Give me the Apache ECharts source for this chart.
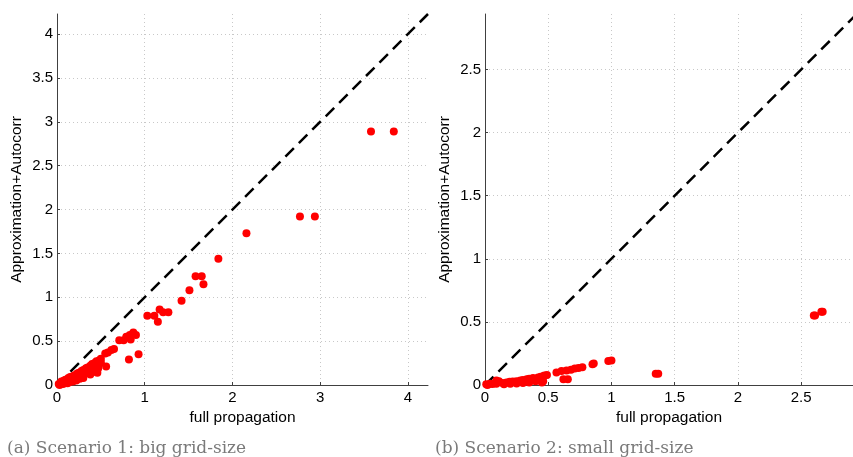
<!DOCTYPE html>
<html>
<head>
<meta charset="utf-8">
<script src="https://cdn.jsdelivr.net/npm/echarts@6/dist/echarts.min.js"></script>
<style>
  html, body { margin: 0; padding: 0; background: #fff; }
  #chart { width: 853px; height: 457px; }
</style>
</head>
<body>
<div id="chart"></div>
<script>
// Scenario 1 (big grid-size): [full propagation, Approximation+Autocorr]
const scenario1Points = [
  [3.58, 2.89], [3.84, 2.89], [2.77, 1.92], [2.94, 1.92], [2.16, 1.73],
  [1.84, 1.44], [1.58, 1.24], [1.65, 1.24], [1.67, 1.15], [1.51, 1.08],
  [1.42, 0.96], [1.17, 0.86], [1.27, 0.83], [1.21, 0.83], [1.03, 0.79],
  [1.11, 0.79], [1.15, 0.72], [0.93, 0.35], [0.82, 0.29], [0.87, 0.60],
  [0.90, 0.57], [0.83, 0.57], [0.79, 0.55], [0.84, 0.52], [0.71, 0.51],
  [0.76, 0.51], [0.65, 0.41], [0.62, 0.40], [0.58, 0.37], [0.55, 0.36],
  [0.56, 0.21], [0.48, 0.28], [0.46, 0.14],
  [0.02, 0.01], [0.04, 0.02], [0.05, 0.04], [0.06, 0.02], [0.08, 0.03],
  [0.08, 0.05], [0.10, 0.04], [0.10, 0.06], [0.12, 0.05], [0.13, 0.08],
  [0.15, 0.06], [0.15, 0.09], [0.17, 0.07], [0.18, 0.10], [0.20, 0.08],
  [0.20, 0.11], [0.22, 0.09], [0.23, 0.13], [0.25, 0.10], [0.25, 0.14],
  [0.27, 0.12], [0.28, 0.16], [0.30, 0.12], [0.30, 0.17], [0.32, 0.14],
  [0.33, 0.19], [0.35, 0.15], [0.35, 0.20], [0.37, 0.17], [0.38, 0.22],
  [0.40, 0.18], [0.40, 0.24], [0.42, 0.20], [0.43, 0.25], [0.45, 0.22],
  [0.45, 0.27], [0.47, 0.19], [0.48, 0.24], [0.50, 0.26], [0.50, 0.30],
  [0.44, 0.15], [0.38, 0.12], [0.30, 0.08], [0.22, 0.05], [0.14, 0.03],
  [0.07, 0.01], [0.03, 0.00], [0.12, 0.02], [0.18, 0.04], [0.26, 0.07]
];

// Scenario 2 (small grid-size): [full propagation, Approximation+Autocorr]
const scenario2Points = [
  [2.60, 0.55], [2.61, 0.55], [2.66, 0.58], [2.67, 0.58],
  [1.35, 0.09], [1.37, 0.09],
  [0.975, 0.19], [1.00, 0.195], [0.85, 0.165], [0.86, 0.17],
  [0.77, 0.14], [0.74, 0.135], [0.71, 0.13], [0.68, 0.12], [0.645, 0.115],
  [0.605, 0.11], [0.565, 0.10], [0.62, 0.045], [0.655, 0.045],
  [0.49, 0.08], [0.47, 0.075], [0.46, 0.07], [0.44, 0.065], [0.42, 0.06],
  [0.46, 0.03], [0.45, 0.02], [0.38, 0.055], [0.35, 0.05], [0.33, 0.045],
  [0.30, 0.04], [0.28, 0.035], [0.25, 0.03], [0.22, 0.028], [0.195, 0.025],
  [0.17, 0.02], [0.14, 0.015], [0.09, 0.035], [0.11, 0.03], [0.09, 0.01],
  [0.06, 0.008], [0.04, 0.01], [0.01, 0.005], [0.02, 0.0],
  [0.40, 0.03], [0.35, 0.02], [0.30, 0.015], [0.25, 0.012], [0.20, 0.01],
  [0.15, 0.005], [0.40, 0.045], [0.43, 0.04]
];

// Axis extents and tick spacing
const scenario1Range = [0, 4.23];
const scenario2XRange = [0, 2.91];
const scenario2YRange = [0, 2.94];
const scenario1Step = { x: 1, y: 0.5 };
const scenario2Step = { x: 0.5, y: 0.5 };

// y = x reference line endpoints
const diag1 = [[0, 0], [4.23, 4.23]];
const diag2 = [[0, 0], [3, 3]];

// Panel captions and axis titles
const captions = ['(a) Scenario 1: big grid-size', '(b) Scenario 2: small grid-size'];
const xTitle = 'full propagation';
const yTitle = 'Approximation+Autocorr';

const sansFont = '"Liberation Sans", Arial, Helvetica, sans-serif';
const serifFont = '"DejaVu Serif", "Liberation Serif", serif';

function makeAxis(gridIndex, range, step, isX) {
  return {
    type: 'value',
    gridIndex: gridIndex,
    min: range[0],
    max: range[1],
    interval: step,
    name: isX ? xTitle : yTitle,
    nameLocation: 'middle',
    nameGap: isX ? 22 : 32,
    nameTextStyle: { color: '#000', fontFamily: sansFont, fontSize: 15.5 },
    axisLine: { show: true, onZero: false, lineStyle: { color: '#404040', width: 1 } },
    axisTick: { show: true, inside: true, length: 3, lineStyle: { color: '#404040' } },
    axisLabel: {
      color: '#000', fontFamily: sansFont, fontSize: 15,
      margin: isX ? 5 : 4,
      showMaxLabel: false,
      formatter: v => String(v)
    },
    splitLine: {
      show: true, showMinLine: false, showMaxLine: false,
      lineStyle: { color: '#c8c8c8', type: [1, 3], width: 1 }
    }
  };
}

const chart = echarts.init(document.getElementById('chart'), null, { renderer: 'canvas' });

chart.setOption({
  animation: false,
  backgroundColor: '#fff',
  grid: [
    { left: 57, top: 14, width: 371, height: 371 },
    { left: 485, top: 14, width: 368, height: 371 }
  ],
  xAxis: [
    makeAxis(0, scenario1Range, scenario1Step.x, true),
    makeAxis(1, scenario2XRange, scenario2Step.x, true)
  ],
  yAxis: [
    makeAxis(0, scenario1Range, scenario1Step.y, false),
    makeAxis(1, scenario2YRange, scenario2Step.y, false)
  ],
  series: [
    {
      type: 'line', xAxisIndex: 0, yAxisIndex: 0, data: diag1,
      symbol: 'none', clip: true, z: 3,
      lineStyle: { color: '#000', width: 2.5, type: [12, 7] }
    },
    {
      type: 'line', xAxisIndex: 1, yAxisIndex: 1, data: diag2,
      symbol: 'none', clip: true, z: 3,
      lineStyle: { color: '#000', width: 2.5, type: [12, 7] }
    },
    {
      type: 'scatter', xAxisIndex: 0, yAxisIndex: 0, data: scenario1Points,
      symbol: 'circle', symbolSize: 8, z: 4,
      itemStyle: { color: '#ff0000', opacity: 1 }
    },
    {
      type: 'scatter', xAxisIndex: 1, yAxisIndex: 1, data: scenario2Points,
      symbol: 'circle', symbolSize: 8, z: 4,
      itemStyle: { color: '#ff0000', opacity: 1 }
    }
  ],
  graphic: [
    {
      type: 'text', x: 7, y: 440,
      style: { text: captions[0], fill: '#7a7a7a', font: '17px ' + serifFont }
    },
    {
      type: 'text', x: 435, y: 440,
      style: { text: captions[1], fill: '#7a7a7a', font: '17px ' + serifFont }
    }
  ]
});
</script>
</body>
</html>
